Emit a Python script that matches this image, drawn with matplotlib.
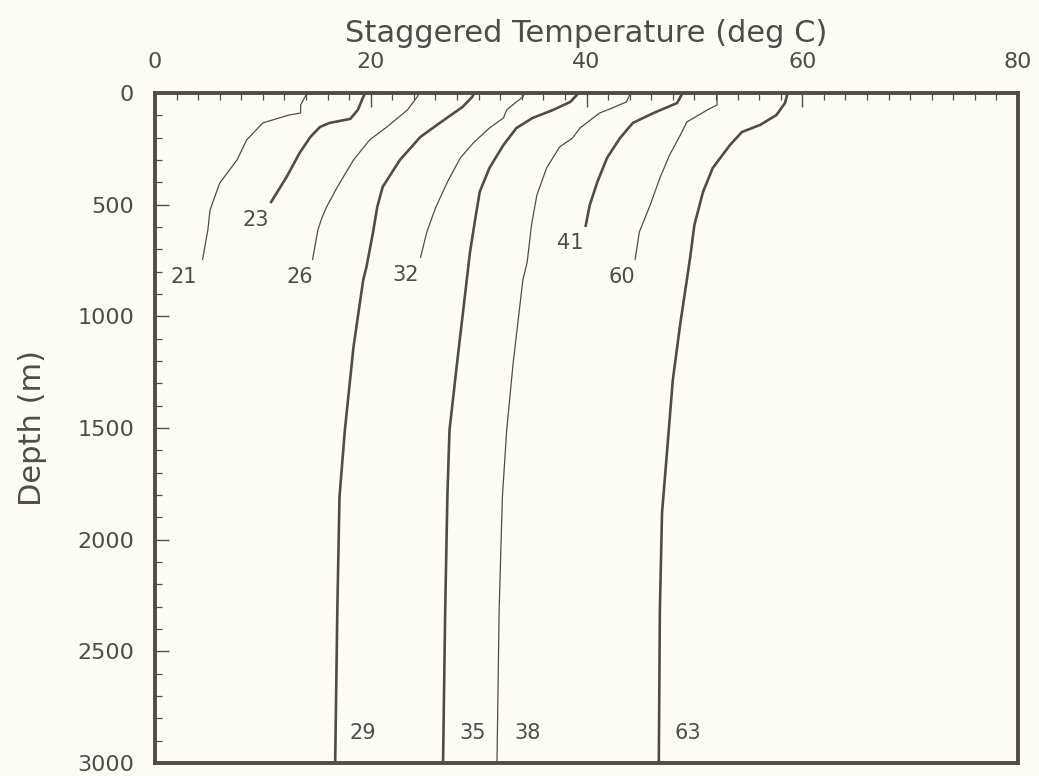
import matplotlib.pyplot as plt
from matplotlib.ticker import MultipleLocator

# Temperature profiles (deg C, staggered) vs depth (m)

well_21_temp  = [14.2, 14.0, 13.5, 13.5, 12.4, 10.0, 8.5, 7.6, 6.0, 5.1, 4.9, 4.4]
well_21_depth = [0, 9, 54, 90, 99, 134, 210, 300, 403, 524, 613, 748]

well_23_temp  = [19.5, 19.3, 18.8, 18.1, 16.2, 15.3, 14.4, 13.4, 12.2, 10.7]
well_23_depth = [0, 18, 76, 116, 134, 152, 197, 269, 376, 493]

well_26_temp  = [24.5, 24.3, 23.4, 21.5, 19.9, 18.4, 16.9, 15.9, 15.5, 15.1, 14.6]
well_26_depth = [0, 18, 76, 152, 210, 300, 421, 511, 555, 613, 748]

well_29_temp  = [29.6, 29.4, 28.5, 26.4, 24.6, 22.7, 21.1, 20.6, 20.2, 19.6,
                 19.3, 18.4, 17.6, 17.1, 16.9, 16.7]
well_29_depth = [0, 18, 63, 134, 197, 300, 421, 511, 627, 779,
                 837, 1137, 1509, 1809, 2315, 3000]

well_32_temp  = [34.3, 34.1, 33.5, 32.6, 32.3, 31.0, 29.5, 28.3, 27.1, 26.0, 25.2, 24.6]
well_32_depth = [0, 18, 40, 76, 112, 157, 224, 291, 399, 515, 622, 739]

well_35_temp  = [39.2, 39.1, 38.5, 36.9, 35.0, 33.5, 32.3, 31.0, 30.1, 29.7,
                 29.2, 28.9, 28.0, 27.3, 27.1, 26.9, 26.7]
well_35_depth = [0, 9, 40, 76, 112, 157, 233, 336, 443, 560,
                 712, 837, 1209, 1509, 1809, 2315, 3000]

well_38_temp  = [44.1, 44.0, 43.7, 42.4, 41.2, 39.4, 38.7, 37.5, 36.3, 35.4,
                 34.9, 34.5, 34.1, 33.2, 32.6, 32.2, 31.9, 31.7]
well_38_depth = [0, 9, 40, 67, 90, 157, 202, 242, 336, 457,
                 591, 757, 837, 1209, 1509, 1809, 2315, 3000]

well_41_temp  = [48.9, 48.8, 48.4, 46.2, 44.3, 43.1, 41.9, 41.0, 40.3, 39.9]
well_41_depth = [0, 9, 45, 90, 134, 202, 291, 399, 502, 600]

well_60_temp  = [52.1, 52.1, 52.1, 51.2, 49.3, 48.7, 47.7, 46.8, 45.9, 44.9, 44.5]
well_60_depth = [0, 9, 54, 76, 130, 188, 278, 381, 502, 622, 748]

well_63_temp  = [58.7, 58.6, 58.4, 57.6, 56.1, 54.4, 53.3, 51.7, 50.8, 50.0,
                 49.6, 49.3, 48.7, 48.0, 47.5, 47.0, 46.8, 46.7]
well_63_depth = [0, 9, 45, 99, 143, 175, 233, 336, 443, 591,
                 739, 837, 1030, 1285, 1585, 1881, 2315, 3000]

well_ids = ["21", "23", "26", "29", "32", "35", "38", "41", "60", "63"]

# Label anchor (temp, depth) per well
label_pos = {
    "21": (2.7, 824), "23": (9.3, 569), "26": (13.4, 824), "32": (23.2, 815),
    "41": (38.5, 672), "60": (43.3, 824),
    "29": (19.3, 2866), "35": (29.4, 2866), "38": (34.5, 2866), "63": (49.4, 2866),
}
thick_wells = {"23", "29", "35", "41", "63"}

profiles = {
    "21": (well_21_temp, well_21_depth), "23": (well_23_temp, well_23_depth),
    "26": (well_26_temp, well_26_depth), "29": (well_29_temp, well_29_depth),
    "32": (well_32_temp, well_32_depth), "35": (well_35_temp, well_35_depth),
    "38": (well_38_temp, well_38_depth), "41": (well_41_temp, well_41_depth),
    "60": (well_60_temp, well_60_depth), "63": (well_63_temp, well_63_depth),
}

LINE_COLOR = "#534b49"
TEXT_COLOR = "#4f4c4a"
BG_COLOR   = "#fdfdf6"

fig = plt.figure(figsize=(10.39, 7.76), dpi=100, facecolor=BG_COLOR)
ax = fig.add_axes([0.1492, 0.0168, 0.8306, 0.8634], facecolor=BG_COLOR)

for wid in well_ids:
    temp, depth = profiles[wid]
    lw = 1.9 if wid in thick_wells else 0.9
    ax.plot(temp, depth, color=LINE_COLOR, lw=lw, solid_capstyle="butt")
    lx, ly = label_pos[wid]
    ax.text(lx, ly, wid, color=TEXT_COLOR, fontsize=15, ha="center", va="center")

ax.set_xlim(0, 80)
ax.set_ylim(3000, 0)

ax.xaxis.tick_top()
ax.xaxis.set_label_position("top")
ax.xaxis.set_major_locator(MultipleLocator(20))
ax.xaxis.set_minor_locator(MultipleLocator(2))
ax.yaxis.set_major_locator(MultipleLocator(500))
ax.yaxis.set_minor_locator(MultipleLocator(100))

ax.tick_params(which="both", direction="in", colors=LINE_COLOR,
               labelcolor=TEXT_COLOR, labelsize=16)
ax.tick_params(which="major", length=10, width=1.0, pad=15)
ax.tick_params(which="minor", length=5, width=0.9)

for side in ["top", "bottom", "left", "right"]:
    ax.spines[side].set_color(LINE_COLOR)
    ax.spines[side].set_linewidth(2.8)

ax.set_xlabel("Staggered Temperature (deg C)", fontsize=22, color=TEXT_COLOR, labelpad=7)
ax.set_ylabel("Depth (m)", fontsize=22, color=TEXT_COLOR, labelpad=22)

fig.savefig("out.png", dpi=100, facecolor=BG_COLOR)
